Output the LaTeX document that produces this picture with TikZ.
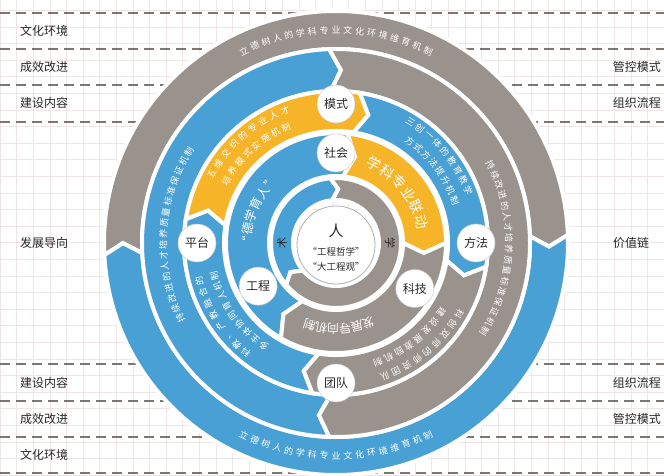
\documentclass[tikz,border=0pt]{standalone}
\usepackage{fontspec}
\newfontfamily\cjk{Noto Sans CJK SC}
\usetikzlibrary{calc}
\definecolor{cblue}{RGB}{72,160,212}
\definecolor{cgray}{RGB}{154,146,140}
\definecolor{cyel}{RGB}{246,180,40}
\definecolor{cdash}{RGB}{125,118,112}
\definecolor{cgrid}{RGB}{238,230,230}
\definecolor{ctext}{RGB}{40,40,40}
% annular segment, clockwise from #4 to #5, notch at start, point at end (#6 = depth in px)
\newcommand\seg[6]{%
  \filldraw[fill=#1, draw=white, line width=4pt, line join=miter]
   (#4:#3) arc[start angle=#4, end angle=#5, radius=#3]
   -- ({#5-#6/((#2+#3)/2)*57.296}:{(#2+#3)/2}) -- (#5:#2)
   arc[start angle=#5, end angle=#4, radius=#2]
   -- ({#4-#6/((#2+#3)/2)*57.296}:{(#2+#3)/2}) -- cycle;}
% clockwise text, tops outward
\newcommand\arccw[5]{%
  \foreach \ch [count=\n] in {#5} {\xdef\arcN{\n}}%
  \foreach \ch [count=\i] in {#5} {%
    \pgfmathsetmacro\ang{#1+(\arcN+1)/2*#3-\i*#3}%
    \node[#4, rotate=\ang-90] at (\ang:#2) {\ch};}}
% counter-clockwise text, tops inward
\newcommand\arcccw[5]{%
  \foreach \ch [count=\n] in {#5} {\xdef\arcN{\n}}%
  \foreach \ch [count=\i] in {#5} {%
    \pgfmathsetmacro\ang{#1-(\arcN+1)/2*#3+\i*#3}%
    \node[#4, rotate=\ang+90] at (\ang:#2) {\ch};}}
\tikzset{
  dl/.style={draw=cdash, line width=1.8pt, dash pattern=on 10pt off 6pt},
  lab/.style={font=\cjk\fontsize{12}{12}\selectfont, text=ctext, inner sep=0},
  wt/.style={font=\cjk\fontsize{#1}{#1}\selectfont, text=white, inner sep=0},
  wt/.default=9,
  nc/.style={circle, fill=white, draw=black!20, line width=0.5pt, minimum size=38pt, inner sep=0,
     font=\cjk\fontsize{12}{12}\selectfont, text=ctext},
}
\begin{document}
\begin{tikzpicture}[x=1pt,y=1pt]
\useasboundingbox (0,0) rectangle (664,475);
\fill[white] (0,0) rectangle (664,475);
\draw[cgrid, line width=0.5pt] (0,0) grid[step=16.6pt] (664,475);
\foreach \yy in {121,158,194,230} {
  \draw[dl] (0,232+\yy) -- (664,232+\yy);
  \draw[dl] (0,232-\yy) -- (664,232-\yy);
}
% side labels
\node[lab, anchor=west] (l1) at (20,444) {文化环境};
\node[lab, anchor=west] (l2) at (20,408) {成效改进};
\node[lab, anchor=west] (l3) at (20,372) {建设内容};
\node[lab, anchor=west] (l4) at (20,232) {发展导向};
\node[lab, anchor=west] (l5) at (20,92) {建设内容};
\node[lab, anchor=west] (l6) at (20,56) {成效改进};
\node[lab, anchor=west] (l7) at (20,20) {文化环境};
\node[lab, anchor=east] (r1) at (661,408) {管控模式};
\node[lab, anchor=east] (r2) at (661,372) {组织流程};
\node[lab] (r3) at (631,232) {价值链};
\node[lab, anchor=east] (r4) at (661,92) {组织流程};
\node[lab, anchor=east] (r5) at (661,56) {管控模式};
\begin{scope}[shift={(336,232)}]
% ring 1
\seg{cgray}{194}{232}{183}{2}{11}
\seg{cblue}{194}{232}{2}{-177}{11}
% ring 2
\seg{cblue}{152}{194}{268}{92}{11}
\seg{cgray}{152}{194}{92}{-92}{11}
% ring 3
\seg{cyel}{112}{152}{171}{81}{12}
\seg{cblue}{112}{152}{81}{-9}{12}
\seg{cgray}{112}{152}{-9}{-99}{12}
\seg{cblue}{112}{152}{261}{171}{12}
% ring 4
\seg{cblue}{67}{110}{240}{84}{10}
\seg{cyel}{67}{110}{84}{0}{10}
\seg{cgray}{67}{110}{0}{-120}{10}
% ring 5
\seg{cblue}{43}{65}{220}{95}{7}
\seg{cgray}{43}{65}{95}{-140}{7}
% texts ring 1
\arccw{90}{213}{3.2}{wt}{立,德,树,人,的,学,科,专,业,文,化,环,境,维,育,机,制}
\arcccw{270}{213}{3.2}{wt}{立,德,树,人,的,学,科,专,业,文,化,环,境,维,育,机,制}
% ring 2
\arccw{177}{173}{3.6}{wt}{持,续,改,进,的,人,才,培,养,质,量,标,准,保,证,机,制}
\arccw{-2}{173}{3.6}{wt}{持,续,改,进,的,人,才,培,养,质,量,标,准,保,证,机,制}
% ring 3
\arccw{131}{142}{5}{wt}{五,维,交,织,的,专,业,人,才}
\arccw{132}{126}{5.3}{wt}{培,养,模,式,实,施,机,制}
\arccw{40}{142}{4.6}{wt}{三,创,一,体,的,教,育,教,学}
\arccw{37}{126}{4.9}{wt}{方,式,方,法,提,升,机,制}
\arccw{-50}{142}{5}{wt}{科,创,双,师,的,师,资,团,队}
\arccw{-52}{126}{5.3}{wt}{建,设,发,展,激,励,机,制}
\arccw{213}{142}{5}{wt}{科,教,、,产,教,融,合,的}
\arccw{215}{126}{5}{wt}{多,主,体,协,同,育,人,机,制}
% ring 4
\arccw{158}{89}{8.5}{wt=12.5}{“,德,学,育,人,”}
\arccw{39}{88}{10}{wt=14}{学,科,专,业,联,动}
\arccw{-88}{86}{8}{wt=12}{发,展,导,向,机,制}
% ring 5
\node[lab, font=\cjk\fontsize{11}{11}\selectfont, rotate=90] (shu) at (180:54) {术};
\node[lab, font=\cjk\fontsize{11}{11}\selectfont, rotate=-90] (xue) at (0:54) {学};
% nodes
\node[nc] (moshi) at (90:139) {模式};
\node[nc] (shehui) at (90:90) {社会};
\node[nc] (pingtai) at (180:139) {平台};
\node[nc] (fangfa) at (0:140) {方法};
\node[nc] (gongcheng) at (209:89) {工程};
\node[nc] (keji) at (-30:91) {科技};
\node[nc] (tuandui) at (270:140) {团队};
% center
\node[circle, fill=white, draw=black!30, line width=0.8pt, minimum size=78pt] (ctr) at (0,-2) {};
\node[lab, font=\cjk\fontsize{15}{15}\selectfont] (ren) at (0,12) {人};
\node[lab, font=\cjk\fontsize{9.5}{9.5}\selectfont] (zx) at (0,-9) {“工程哲学”};
\node[lab, font=\cjk\fontsize{9.5}{9.5}\selectfont] (gcg) at (0,-24) {“大工程观”};
\end{scope}
\end{tikzpicture}
\end{document}
